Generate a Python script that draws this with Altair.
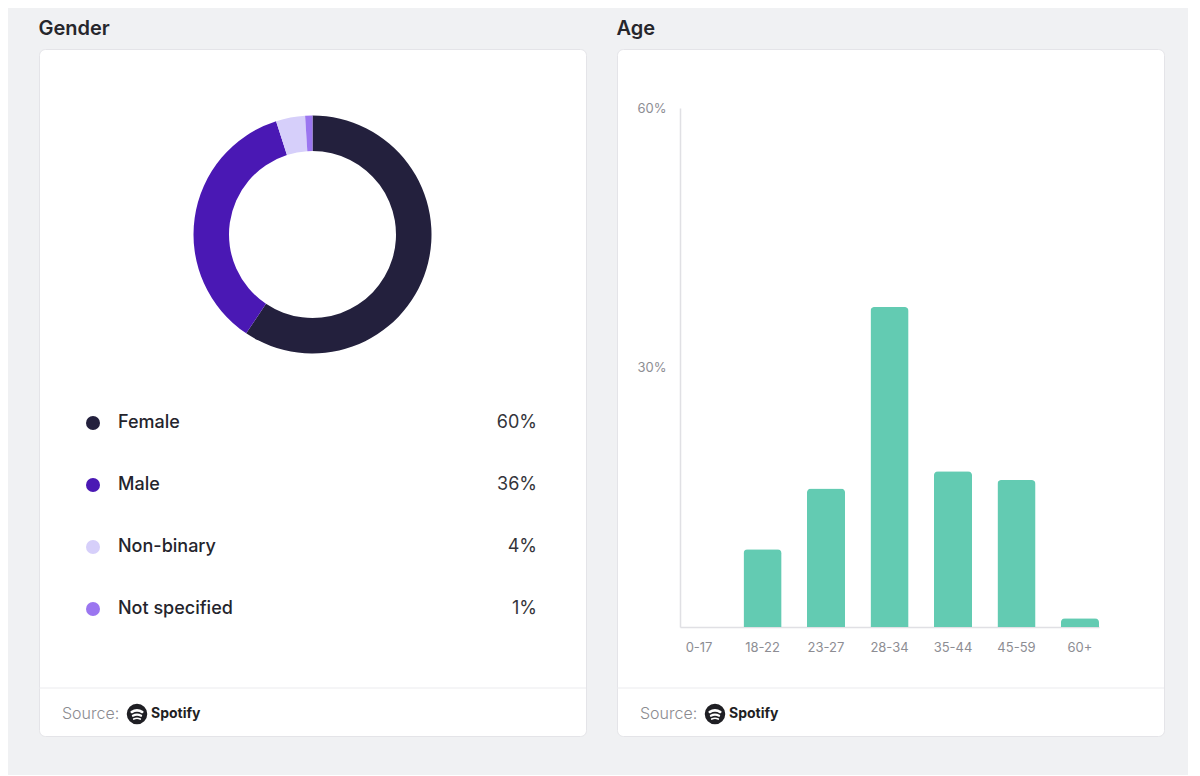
import math
import altair as alt
import pandas as pd

# ---------------- data ----------------
genders = ["Female", "Male", "Non-binary", "Not specified"]
gender_pct = [60, 36, 4, 1]
gender_colors = ["#23203d", "#4a18b4", "#d6cffa", "#9b76f0"]

age_groups = ["0-17", "18-22", "23-27", "28-34", "35-44", "45-59", "60+"]
age_pct = [0, 9, 16, 37, 18, 17, 1]
age_ticks = [30, 60]

# ---------------- layout constants ----------------
W, H = 547, 687
FONT = "Inter"
TAU = 2 * math.pi

gdf = pd.DataFrame({"gender": genders, "pct": gender_pct, "order": list(range(len(genders)))})
adf = pd.DataFrame({"age": age_groups, "pct": age_pct})
one = pd.DataFrame({"k": [0]})

color_scale = alt.Scale(domain=genders, range=gender_colors)


def footer():
    layers = []
    layers.append(
        alt.Chart(one).mark_rule(color="#ebebee", strokeWidth=1).encode(
            x=alt.value(0), x2=alt.value(W), y=alt.value(639)
        )
    )
    layers.append(
        alt.Chart(one).mark_text(
            text="Source:", align="left", baseline="middle", font=FONT,
            fontSize=16, fontWeight=300, color="#8b8b90"
        ).encode(x=alt.value(23), y=alt.value(665))
    )
    layers.append(
        alt.Chart(one).mark_point(
            shape="circle", filled=True, size=420, opacity=1, color="#1f1f24"
        ).encode(x=alt.value(98), y=alt.value(665))
    )
    # three white arcs of the logo
    for dy, R, t, half in [(-3.5, 10.0, 2.6, 6.2), (0.7, 8.6, 2.1, 5.0), (4.3, 7.3, 1.7, 4.0)]:
        a = math.asin(min(half / R, 0.99))
        layers.append(
            alt.Chart(one).mark_arc(
                radius=R + t / 2, radius2=R - t / 2, theta=TAU - a, theta2=TAU + a,
                color="white", cornerRadius=1
            ).encode(x=alt.value(98), y=alt.value(665 + dy + R))
        )
    layers.append(
        alt.Chart(one).mark_text(
            text="Spotify", align="left", baseline="middle", font=FONT,
            fontSize=14, fontWeight="bold", color="#1f1f24"
        ).encode(x=alt.value(112), y=alt.value(665))
    )
    return layers


# ---------------- Gender card ----------------
donut = alt.Chart(gdf).mark_arc(radius=119, radius2=83.5).encode(
    theta=alt.Theta("pct:Q", stack=True),
    color=alt.Color("gender:N", scale=color_scale, legend=None),
    order=alt.Order("order:Q"),
    x=alt.value(273.5),
    y=alt.value(185.5),
)

leg_y = alt.Y(
    "gender:N",
    scale=alt.Scale(type="point", domain=genders, range=[374, 560], padding=0),
    axis=None,
)

dots = alt.Chart(gdf).mark_point(filled=True, size=196, opacity=1, shape="circle").encode(
    x=alt.value(54),
    y=leg_y,
    color=alt.Color("gender:N", scale=color_scale, legend=None),
)

names = alt.Chart(gdf).mark_text(
    align="left", baseline="middle", font=FONT, fontSize=18, fontWeight=500, color="#24242c"
).encode(x=alt.value(79), y=leg_y, text="gender:N")

pcts = alt.Chart(gdf).transform_calculate(label="datum.pct + '%'").mark_text(
    align="right", baseline="middle", font=FONT, fontSize=18, fontWeight=400, color="#34343a"
).encode(x=alt.value(498), y=leg_y, text="label:N")

gender_card = alt.layer(donut, dots, names, pcts, *footer()).properties(
    width=W, height=H, title=alt.Title("Gender")
)

# ---------------- Age card ----------------
bars = alt.Chart(adf).mark_bar(
    color="#63cbb2", cornerRadiusTopLeft=4, cornerRadiusTopRight=4
).encode(
    x=alt.X(
        "age:N",
        sort=age_groups,
        scale=alt.Scale(domain=age_groups, range=[63, 482], paddingInner=0.4, paddingOuter=0),
        axis=alt.Axis(
            title=None, orient="bottom", offset=-(H - 578), domainColor="#e0e0e4",
            domainWidth=1.5, ticks=False, tickSize=0, labelPadding=14, labelFont=FONT,
            labelFontSize=13, labelColor="#8d8d93", labelAngle=0, grid=False,
        ),
    ),
    y=alt.Y(
        "pct:Q",
        scale=alt.Scale(domain=[0, 60], range=[578, 59], nice=False),
        axis=alt.Axis(
            title=None, orient="left", offset=-63, values=age_ticks,
            labelExpr="datum.value + '%'", domainColor="#e0e0e4", domainWidth=1.5,
            ticks=False, tickSize=0, labelPadding=14, labelFont=FONT, labelFontSize=13,
            labelColor="#8d8d93", grid=False,
        ),
    ),
)

age_card = alt.layer(bars, *footer()).properties(width=W, height=H, title=alt.Title("Age"))

chart = (
    alt.hconcat(gender_card, age_card, spacing=29)
    .properties(padding={"left": 30, "top": 10, "right": 23, "bottom": 38})
    .configure(background="#f0f1f3")
    .configure_view(fill="white", stroke="#e4e4e8", cornerRadius=6, strokeWidth=1)
    .configure_title(
        font=FONT, fontSize=20, fontWeight=600, color="#26262c", anchor="start", offset=10
    )
)

chart.save("out.html", embed_options={"renderer": "svg", "actions": False})
